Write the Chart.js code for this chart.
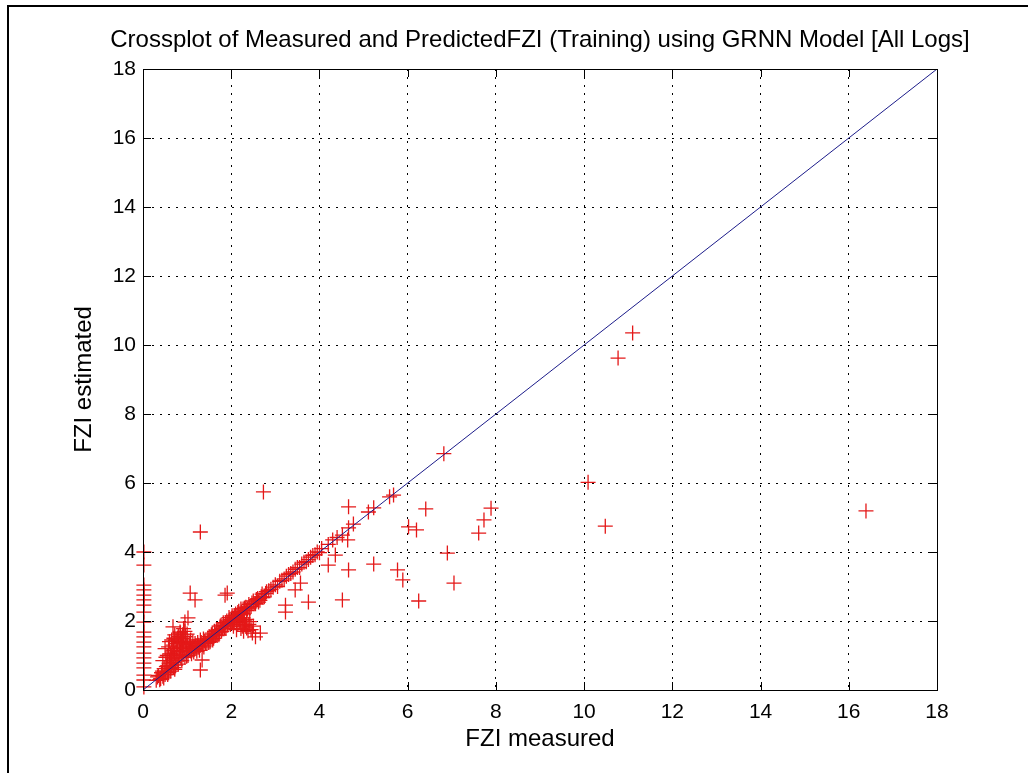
<!DOCTYPE html>
<html>
<head>
<meta charset="utf-8">
<title>Crossplot FZI GRNN</title>
<script src="https://cdn.jsdelivr.net/npm/chart.js@4.4.1/dist/chart.umd.min.js"></script>
<style>
  html, body { margin: 0; padding: 0; background: #fff; }
  #wrap { position: relative; width: 1028px; height: 773px; }
  #frame { position: absolute; left: 7px; top: 5px; right: 0; bottom: 0;
           border-top: 2px solid #000; border-left: 2px solid #000; pointer-events: none; }
  canvas { position: absolute; left: 0; top: 0; }
</style>
</head>
<body>
<div id="wrap">
  <canvas id="grafico" width="1028" height="773"></canvas>
  <div id="frame"></div>
</div>
<script>
// ---- dados ----
const tickValues = [0, 2, 4, 6, 8, 10, 12, 14, 16, 18];
const TITULO = 'Crossplot of Measured and PredictedFZI (Training) using GRNN Model [All Logs]';

// pontos com FZI medido ~0 (coluna no eixo y)
const zeroX = [0.02, 0.02, 0.02, 0.02, 0.02, 0.02, 0.02, 0.02, 0.02, 0.02,
               0.02, 0.02, 0.02, 0.02, 0.02, 0.02, 0.02, 0.02, 0.02, 0.02];
const zeroY = [4.00, 3.62, 3.04, 2.90, 2.75, 2.61, 2.46, 2.26, 1.97, 1.68,
               1.54, 1.39, 1.25, 1.07, 0.93, 0.78, 0.64, 0.43, 0.29, 0.09];

// faixa densa ao longo da diagonal
const bandX = [0.30, 0.35, 0.40, 0.42, 0.45, 0.48, 0.50, 0.52, 0.55, 0.58,
               0.60, 0.62, 0.65, 0.65, 0.68, 0.70, 0.72, 0.75, 0.75, 0.78,
               0.80, 0.82, 0.85, 0.88, 0.90, 0.92, 0.95, 0.98, 1.00, 1.02,
               1.05, 1.08, 1.10, 1.12, 1.15, 1.18, 1.20, 1.25, 1.28, 1.30,
               1.35, 1.40, 1.45, 1.50, 1.52, 1.55, 1.60, 1.62, 1.65, 1.70,
               1.72, 1.75, 1.80, 1.82, 1.85, 1.90, 1.92, 1.95, 2.00, 2.02,
               2.05, 2.10, 2.12, 2.15, 2.20, 2.22, 2.25, 2.30, 2.35, 2.40,
               2.45, 2.50, 2.55, 2.60, 2.65, 2.70, 2.75, 2.80, 2.90, 3.00,
               3.05, 3.10, 3.20, 3.25, 3.30, 3.35, 3.45, 3.55, 3.60, 3.70,
               3.80, 3.85, 3.95, 4.00, 4.05, 4.20, 4.30, 4.40];
const bandY = [0.28, 0.42, 0.33, 0.50, 0.40, 0.62, 0.45, 0.55, 0.70, 0.50,
               0.85, 0.62, 1.00, 0.70, 1.20, 0.80, 0.60, 1.10, 0.90, 1.35,
               0.75, 1.00, 1.25, 0.85, 1.15, 1.40, 0.95, 1.10, 1.30, 1.00,
               1.20, 1.45, 1.05, 1.25, 1.10, 1.35, 1.20, 1.30, 1.15, 1.45,
               1.30, 1.42, 1.35, 1.55, 1.40, 1.60, 1.50, 1.70, 1.62, 1.75,
               1.60, 1.85, 1.78, 1.95, 1.80, 2.00, 1.88, 2.10, 1.95, 2.15,
               2.05, 2.20, 2.08, 2.25, 2.18, 2.35, 2.22, 2.38, 2.30, 2.48,
               2.42, 2.58, 2.50, 2.65, 2.60, 2.78, 2.70, 2.85, 2.92, 3.05,
               3.00, 3.15, 3.22, 3.30, 3.35, 3.38, 3.50, 3.55, 3.65, 3.72,
               3.85, 3.90, 4.00, 3.98, 4.10, 4.22, 4.35, 4.42];

// mais pontos da faixa (preenchimento da nuvem)
const band2X = [0.33, 0.38, 0.44, 0.47, 0.53, 0.56, 0.59, 0.63, 0.66, 0.69,
                0.71, 0.74, 0.77, 0.79, 0.83, 0.86, 0.87, 0.91, 0.93, 0.97,
                0.99, 1.03, 1.06, 1.09, 1.13, 1.16, 1.19, 1.22, 1.24, 1.27,
                1.32, 1.37, 1.38, 1.42, 1.47, 1.49, 1.54, 1.57, 1.58, 1.63,
                1.67, 1.68, 1.73, 1.77, 1.78, 1.83, 1.87, 1.88, 1.93, 1.97,
                1.98, 2.03, 2.07, 2.08, 2.13, 2.17, 2.18, 2.23, 2.27, 2.28,
                2.33, 2.37, 2.42, 2.47, 2.52, 2.57, 2.62, 2.68, 2.72, 2.78,
                2.85, 2.95, 3.15, 3.40, 3.50, 3.65, 3.75, 3.90];
const band2Y = [0.38, 0.30, 0.55, 0.35, 0.68, 0.45, 0.78, 0.55, 0.90, 0.65,
                1.05, 0.72, 1.22, 0.85, 1.12, 0.95, 1.38, 1.02, 1.22, 1.32,
                0.98, 1.15, 1.35, 1.12, 1.40, 1.18, 1.28, 1.12, 1.38, 1.25,
                1.38, 1.48, 1.25, 1.36, 1.50, 1.38, 1.48, 1.65, 1.45, 1.58,
                1.72, 1.58, 1.68, 1.88, 1.70, 1.85, 1.95, 1.78, 1.95, 2.05,
                1.90, 2.00, 2.15, 2.00, 2.15, 2.28, 2.10, 2.25, 2.35, 2.20,
                2.40, 2.35, 2.38, 2.52, 2.50, 2.62, 2.55, 2.70, 2.68, 2.80,
                2.88, 2.98, 3.18, 3.42, 3.55, 3.70, 3.78, 3.92];

// bolhas fora da diagonal (abaixo em ~2.3 e acima em ~0.8)
const blobX = [2.20, 2.25, 2.30, 2.35, 2.40, 2.45, 2.35, 2.28, 2.15, 2.22,
               2.32, 2.38, 2.42, 2.50, 2.48, 2.18, 2.05, 2.12,
               0.50, 0.60, 0.70, 0.80, 0.90, 0.75, 0.95, 0.55, 0.58, 0.62,
               0.65, 0.68, 0.72, 0.78, 0.82, 0.85, 0.88, 0.92, 0.96, 1.00,
               0.45, 0.52, 0.70];
const blobY = [1.95, 1.85, 2.00, 1.80, 1.90, 1.75, 2.05, 1.70, 1.90, 1.78,
               1.88, 1.72, 1.98, 1.85, 1.65, 2.02, 1.85, 1.75,
               1.20, 1.40, 1.50, 1.55, 1.60, 1.45, 1.70, 1.00, 1.25, 1.05,
               1.45, 1.30, 1.60, 1.50, 1.35, 1.65, 1.50, 1.78, 1.55, 1.62,
               0.85, 0.95, 1.15];

// pontos dispersos / outliers
const outX = [1.30, 2.73, 1.07, 1.18, 1.91, 1.02, 0.95, 0.68, 0.84, 1.34,
              1.30, 1.86, 3.23, 3.23, 3.75, 3.45, 3.57, 4.52, 4.66, 4.20,
              4.36, 4.64, 2.55, 2.66, 2.27, 4.66, 6.41, 6.02, 6.20, 7.89,
              7.73, 7.61, 6.90, 5.23, 5.77, 5.89, 7.05, 6.25, 10.09, 10.48,
              11.10, 10.77, 16.39,
              4.52, 4.66, 4.77, 5.11, 5.23, 5.59, 5.68, 6.82];
const outY = [4.58, 5.74, 2.81, 2.61, 2.81, 2.09, 1.97, 1.83, 1.68, 0.87,
              0.58, 2.75, 2.46, 2.26, 2.55, 2.90, 3.10, 2.61, 3.48, 3.62,
              3.91, 4.35, 1.54, 1.65, 2.09, 5.31, 5.25, 4.73, 4.64, 5.27,
              4.93, 4.55, 3.97, 3.65, 3.48, 3.19, 3.10, 2.58, 6.02, 4.75,
              10.35, 9.62, 5.19,
              4.49, 4.70, 4.81, 5.16, 5.28, 5.60, 5.65, 6.85];

// linha 1:1
const lineX = [0, 18];
const lineY = [0, 18];

const measX = [...zeroX, ...bandX, ...band2X, ...blobX, ...outX];
const measY = [...zeroY, ...bandY, ...band2Y, ...blobY, ...outY];

const FONT = `'Liberation Sans', Arial, sans-serif`;

// moldura da área + ticks para dentro + título centrado nos eixos (estilo MATLAB)
const framePlugin = {
  id: 'moldura',
  afterDatasetsDraw(chart) {
    const { ctx, chartArea: a, scales } = chart;
    ctx.save();
    ctx.strokeStyle = '#000';
    ctx.lineWidth = 1;
    ctx.strokeRect(a.left + 0.5, a.top + 0.5, a.width, a.height);
    const len = 8;
    ctx.beginPath();
    tickValues.forEach(v => {
      const px = Math.round(scales.x.getPixelForValue(v)) + 0.5;
      ctx.moveTo(px, a.bottom); ctx.lineTo(px, a.bottom - len);
      ctx.moveTo(px, a.top); ctx.lineTo(px, a.top + len);
      const py = Math.round(scales.y.getPixelForValue(v)) + 0.5;
      ctx.moveTo(a.left, py); ctx.lineTo(a.left + len, py);
      ctx.moveTo(a.right, py); ctx.lineTo(a.right - len, py);
    });
    ctx.stroke();

    ctx.fillStyle = '#000';
    ctx.font = `24px ${FONT}`;
    ctx.textAlign = 'center';
    ctx.textBaseline = 'middle';
    ctx.fillText(TITULO, (a.left + a.right) / 2, a.top - 29);
    ctx.restore();
  }
};

const gridOpts = {
  color: '#000',
  lineWidth: 1,
  drawTicks: false
};

new Chart(document.getElementById('grafico'), {
  type: 'scatter',
  data: {
    datasets: [
      {
        label: 'linha 1:1',
        type: 'line',
        data: lineX.map((x, i) => ({ x, y: lineY[i] })),
        borderColor: '#1c1c8a',
        borderWidth: 1,
        pointRadius: 0,
        fill: false,
        order: 0
      },
      {
        label: 'FZI',
        data: measX.map((x, i) => ({ x, y: measY[i] })),
        pointStyle: 'cross',
        pointRadius: 7.5,
        borderColor: '#e41818',
        borderWidth: 1.3,
        backgroundColor: '#e41818',
        clip: false,
        order: 1
      }
    ]
  },
  options: {
    responsive: false,
    animation: false,
    layout: { padding: { left: 0, right: 91, top: 69, bottom: 0 } },
    plugins: {
      legend: { display: false },
      tooltip: { enabled: false },
      title: { display: false }
    },
    scales: {
      x: {
        type: 'linear',
        min: 0, max: 18,
        afterBuildTicks: s => { s.ticks = tickValues.map(v => ({ value: v })); },
        afterFit: s => { s.height = 83; },
        grid: { ...gridOpts },
        border: { display: true, color: '#000', width: 1, dash: [2, 6] },
        ticks: { color: '#000', padding: 10, font: { family: FONT, size: 21 } },
        title: {
          display: true, text: 'FZI measured', color: '#000',
          font: { family: FONT, size: 24 }, padding: { top: 0, bottom: 19 }
        }
      },
      y: {
        type: 'linear',
        min: 0, max: 18,
        afterBuildTicks: s => { s.ticks = tickValues.map(v => ({ value: v })); },
        afterFit: s => { s.width = 143; },
        grid: { ...gridOpts },
        border: { display: true, color: '#000', width: 1, dash: [2, 6] },
        ticks: { color: '#000', padding: 7, font: { family: FONT, size: 21 } },
        title: {
          display: true, text: 'FZI estimated', color: '#000',
          font: { family: FONT, size: 24 }, padding: { top: 70, bottom: 0 }
        }
      }
    }
  },
  plugins: [framePlugin]
});
</script>
</body>
</html>
